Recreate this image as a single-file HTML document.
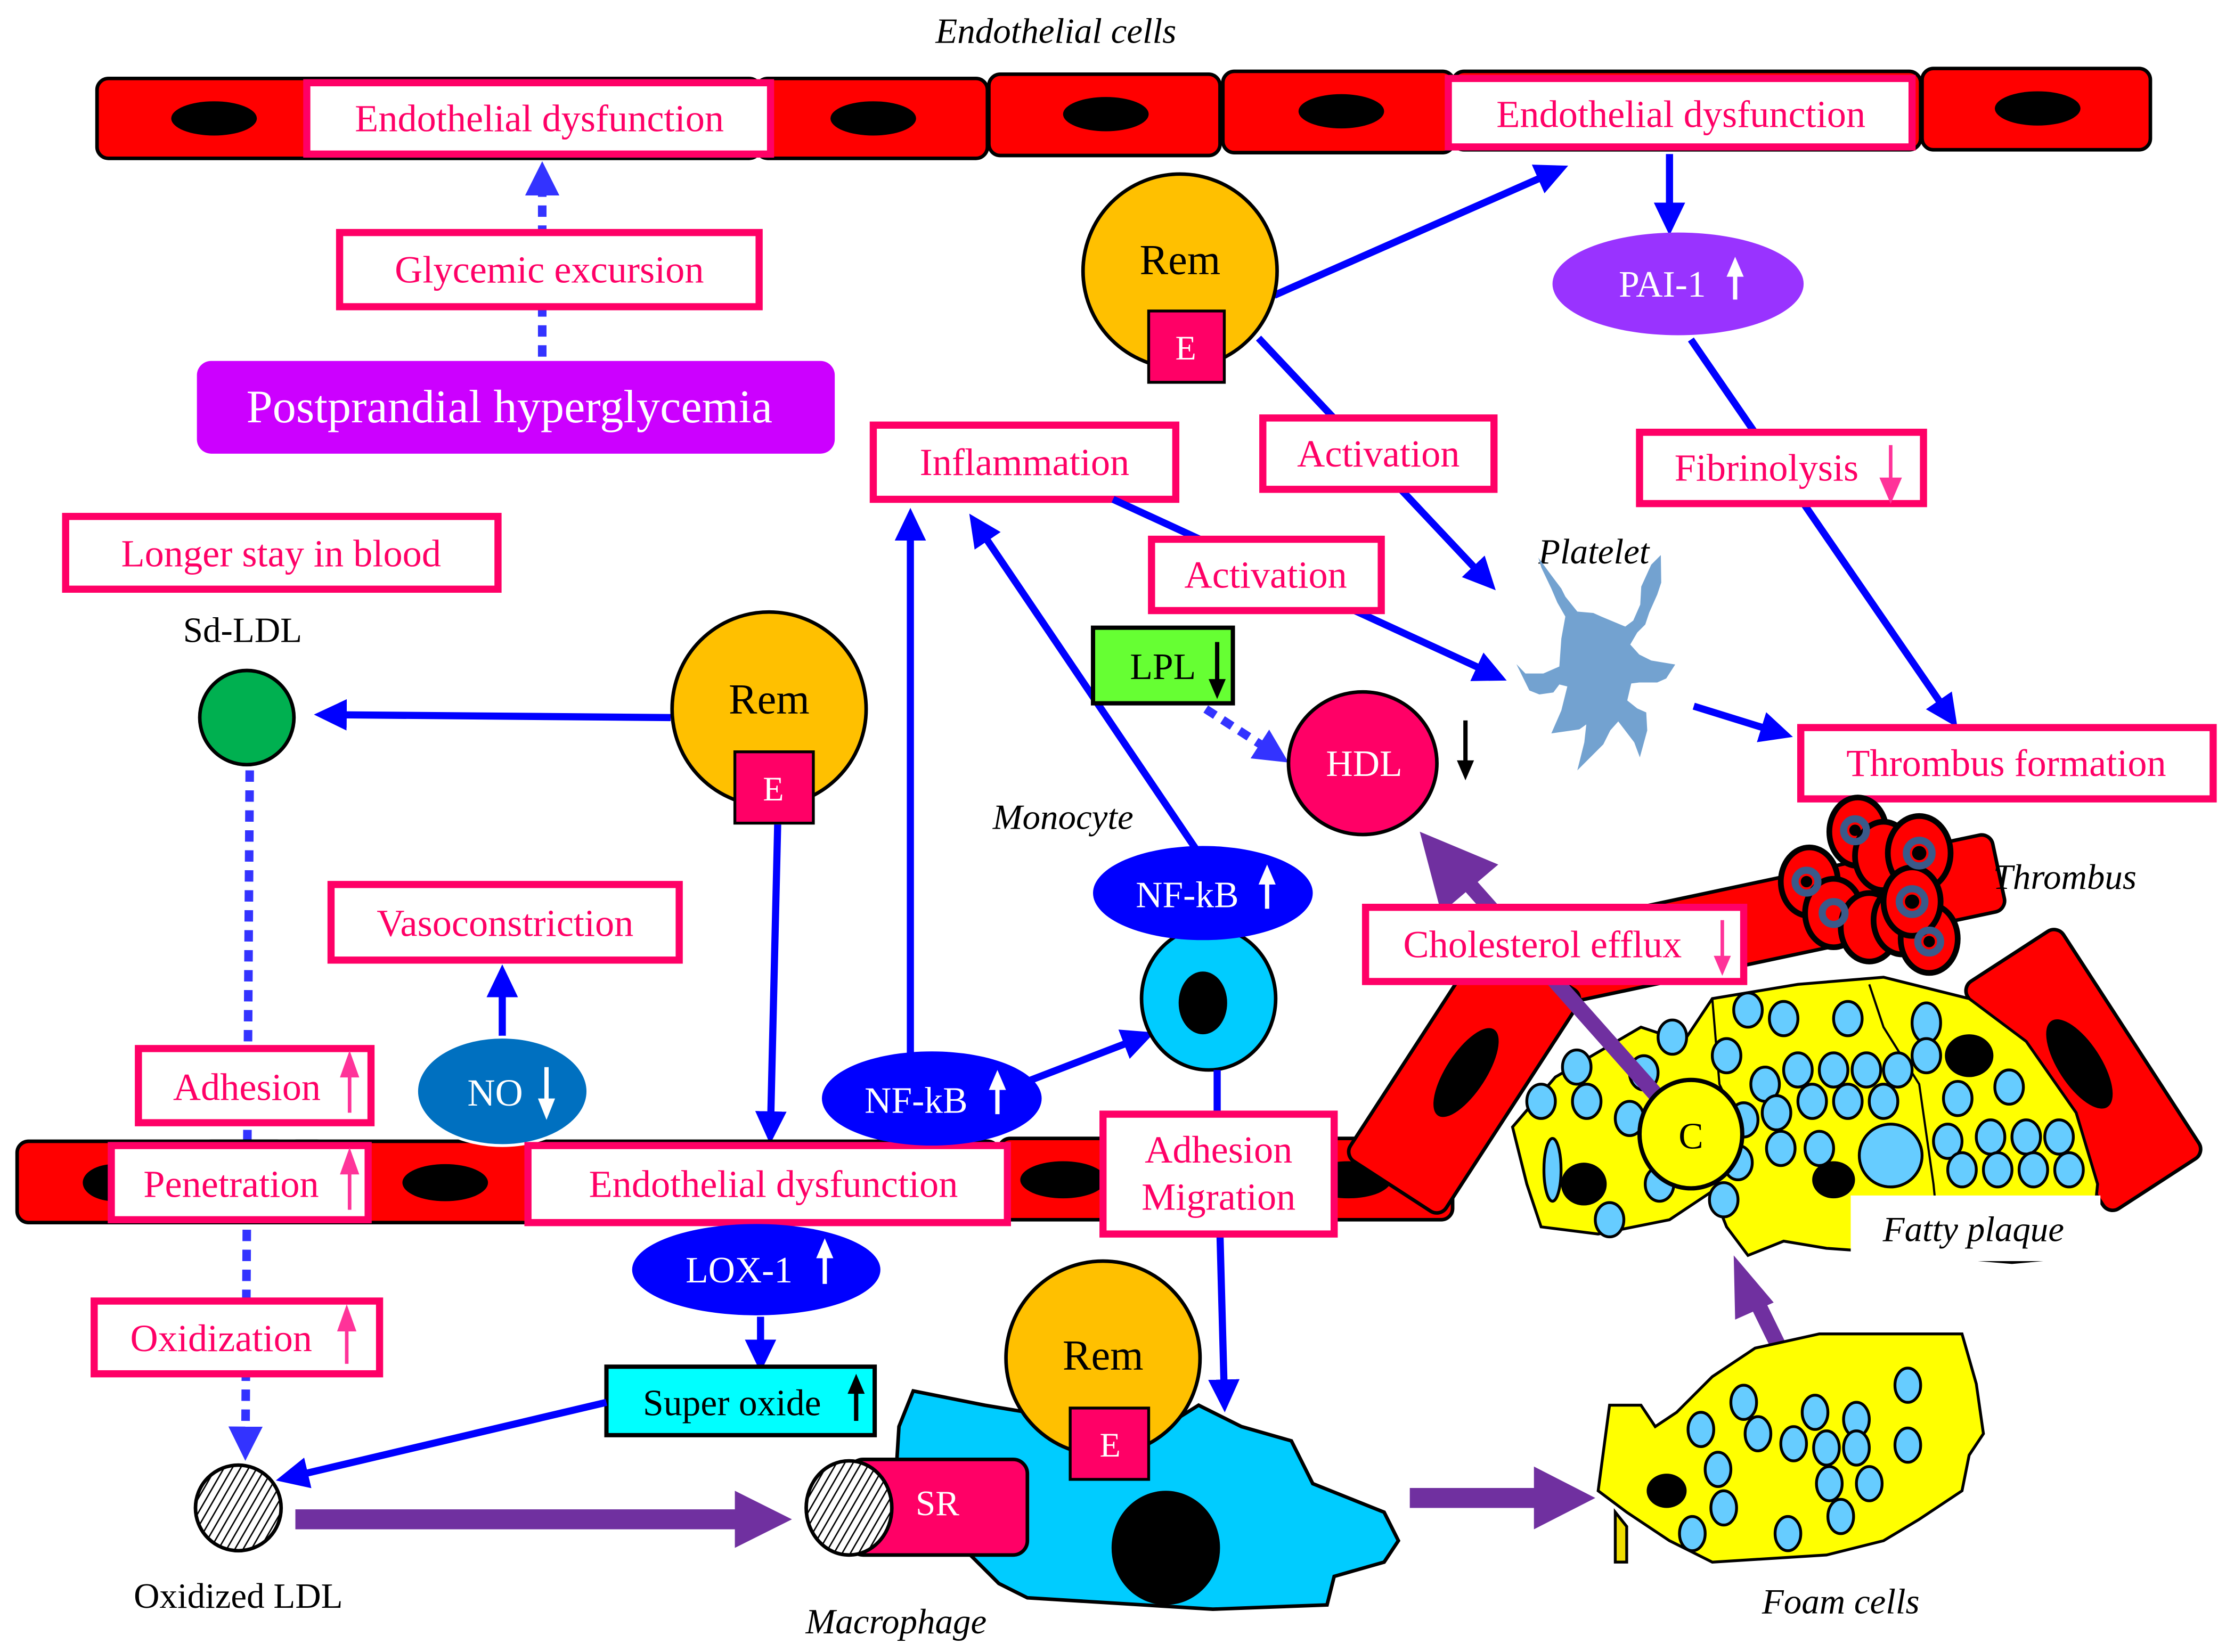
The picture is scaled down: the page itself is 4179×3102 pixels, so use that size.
<!DOCTYPE html>
<html><head><meta charset="utf-8"><style>
html,body{margin:0;padding:0;background:#fff;}
svg{display:block;}
text{font-family:"Liberation Serif",serif;}
.pk{fill:#ff0066;font-size:27px;}
.bx{fill:#fff;stroke:#ff0066;stroke-width:5;}
.cell{fill:#ff0000;stroke:#000;stroke-width:2.5;}
.bl{stroke:#0000ff;stroke-width:5;fill:none;}
.dot{fill:#66ccff;stroke:#000;stroke-width:2;}
.it{font-style:italic;font-size:25px;fill:#000;}
</style></head><body>
<svg width="4179" height="3102" viewBox="0 0 1560 1158" preserveAspectRatio="none" xmlns="http://www.w3.org/2000/svg">
<defs>
<marker id="ab" markerWidth="4.6" markerHeight="4.4" refX="2.2" refY="2.2" orient="auto" markerUnits="strokeWidth"><path d="M0,0 L4.6,2.2 L0,4.4 Z" fill="#0000ff"/></marker>
<marker id="ad" markerWidth="4" markerHeight="4" refX="2" refY="2" orient="auto" markerUnits="strokeWidth"><path d="M0,0 L4,2 L0,4 Z" fill="#3333ff"/></marker>
<pattern id="hatch" width="5" height="5" patternUnits="userSpaceOnUse" patternTransform="rotate(30)"><rect width="5" height="5" fill="#fff"/><line x1="0" y1="0" x2="0" y2="5" stroke="#000" stroke-width="2"/></pattern>
</defs>

<!-- top endothelium -->
<text x="740" y="30" class="it" text-anchor="middle">Endothelial cells</text>
<rect class="cell" x="68" y="55" width="465" height="56" rx="8"/>
<rect class="cell" x="530" y="55" width="162" height="56" rx="8"/>
<rect class="cell" x="693" y="52" width="162" height="57" rx="8"/>
<rect class="cell" x="857" y="50" width="162" height="57" rx="8"/>
<rect class="cell" x="1018" y="50" width="328" height="55" rx="8"/>
<rect class="cell" x="1347" y="48" width="160" height="57" rx="8"/>
<ellipse cx="150" cy="83" rx="30" ry="12"/>
<ellipse cx="612" cy="83" rx="30" ry="12"/>
<ellipse cx="775" cy="80" rx="30" ry="12"/>
<ellipse cx="940" cy="78" rx="30" ry="12"/>
<ellipse cx="1428" cy="76" rx="30" ry="12"/>
<rect class="bx" x="215" y="58" width="325" height="50"/><text class="pk" x="378" y="92" text-anchor="middle">Endothelial dysfunction</text>
<rect class="bx" x="1015" y="55" width="325" height="48"/><text class="pk" x="1178" y="89" text-anchor="middle">Endothelial dysfunction</text>

<!-- glycemic -->
<line x1="380" y1="250" x2="380" y2="125" stroke="#3333ff" stroke-width="6" stroke-dasharray="8,6" marker-end="url(#ad)"/>
<rect class="bx" x="238" y="163" width="294" height="52"/><text class="pk" x="385" y="198" text-anchor="middle">Glycemic excursion</text>
<rect x="138" y="253" width="447" height="65" rx="10" fill="#cc00ff"/>
<text x="357" y="296" text-anchor="middle" fill="#fff" font-size="33">Postprandial hyperglycemia</text>

<!-- left side -->
<rect class="bx" x="46" y="362" width="303" height="51"/><text class="pk" x="197" y="397" text-anchor="middle">Longer stay in blood</text>
<text x="170" y="450" text-anchor="middle" font-size="25">Sd-LDL</text>
<circle cx="173" cy="503" r="33" fill="#00b050" stroke="#000" stroke-width="2.5"/>
<line x1="470" y1="503" x2="232" y2="501" class="bl" marker-end="url(#ab)"/>
<circle cx="539" cy="497" r="68" fill="#ffc000" stroke="#000" stroke-width="2.5"/>
<text x="539" y="500" text-anchor="middle" font-size="30">Rem</text>
<rect x="515" y="527" width="55" height="50" fill="#ff0066" stroke="#000" stroke-width="2"/>
<text x="542" y="561" text-anchor="middle" fill="#fff" font-size="24">E</text>
<line x1="545" y1="578" x2="540" y2="790" class="bl" marker-end="url(#ab)"/>
<line x1="175" y1="540" x2="172" y2="1012" stroke="#3333ff" stroke-width="6" stroke-dasharray="8,6" marker-end="url(#ad)"/>

<rect class="bx" x="232" y="620" width="244" height="53"/><text class="pk" x="354" y="656" text-anchor="middle">Vasoconstriction</text>
<line x1="352" y1="728" x2="352" y2="688" class="bl" stroke-width="6" marker-end="url(#ab)"/>

<!-- bottom endothelium -->
<rect class="cell" x="12" y="800" width="190" height="57" rx="8"/>
<rect class="cell" x="140" y="800" width="90" height="57" rx="8"/>
<rect class="cell" x="200" y="800" width="180" height="57" rx="8"/>
<rect class="cell" x="370" y="800" width="330" height="57" rx="8"/>
<rect class="cell" x="700" y="798" width="318" height="57" rx="8"/>
<ellipse cx="80" cy="829" rx="22" ry="13"/>
<ellipse cx="312" cy="829" rx="30" ry="13"/>
<ellipse cx="745" cy="827" rx="30" ry="13"/>
<ellipse cx="945" cy="827" rx="30" ry="13"/>
<ellipse cx="352" cy="765" rx="60" ry="38" fill="#0070c0" stroke="#fff" stroke-width="2"/>
<text x="347" y="775" text-anchor="middle" fill="#fff" font-size="27">NO</text>
<line x1="383" y1="748" x2="383" y2="772" stroke="#fff" stroke-width="3"/><path d="M377,770 L383,785 L389,770Z" fill="#fff"/>
<rect class="bx" x="97" y="735" width="163" height="52"/><text class="pk" x="173" y="771" text-anchor="middle">Adhesion</text>
<rect class="bx" x="78" y="803" width="180" height="52"/><text class="pk" x="162" y="839" text-anchor="middle">Penetration</text>
<rect class="bx" x="370" y="803" width="336" height="54"/><text class="pk" x="542" y="839" text-anchor="middle">Endothelial dysfunction</text>
<rect class="bx" x="66" y="912" width="200" height="51"/><text class="pk" x="155" y="947" text-anchor="middle">Oxidization</text>
<g stroke="#ff3399" stroke-width="2.5" fill="#ff3399">
<line x1="245" y1="780" x2="245" y2="750"/><path d="M240,754 L245,740 L250,754Z"/>
<line x1="245" y1="848" x2="245" y2="818"/><path d="M240,822 L245,808 L250,822Z"/>
<line x1="243" y1="956" x2="243" y2="928"/><path d="M238,932 L243,918 L248,932Z"/>
</g>

<!-- oxidized LDL & macrophage -->
<circle cx="167" cy="1057" r="30" fill="url(#hatch)" stroke="#000" stroke-width="2.5"/>
<text x="167" y="1127" text-anchor="middle" font-size="25">Oxidized LDL</text>
<path d="M207,1058 L515,1058 L515,1045 L555,1065 L515,1085 L515,1072 L207,1072Z" fill="#7030a0"/>
<path d="M640,975 L690,985 L720,990 L760,1010 L800,1010 L840,985 L870,1000 L905,1010 L920,1040 L945,1050 L970,1060 L980,1080 L970,1095 L935,1105 L930,1125 L850,1128 L720,1120 L700,1110 L670,1080 L625,1080 L630,1000Z" fill="#00ccff" stroke="#000" stroke-width="2.5"/>
<ellipse cx="817" cy="1085" rx="38" ry="40" fill="#000"/>
<rect x="595" y="1023" width="125" height="67" rx="10" fill="#ff0066" stroke="#000" stroke-width="2.5"/>
<text x="657" y="1062" text-anchor="middle" fill="#fff" font-size="25">SR</text>
<ellipse cx="595" cy="1057" rx="30" ry="33" fill="url(#hatch)" stroke="#000" stroke-width="2.5"/>
<circle cx="773" cy="952" r="68" fill="#ffc000" stroke="#000" stroke-width="2.5"/>
<text x="773" y="960" text-anchor="middle" font-size="30">Rem</text>
<rect x="750" y="987" width="55" height="50" fill="#ff0066" stroke="#000" stroke-width="2"/>
<text x="778" y="1021" text-anchor="middle" fill="#fff" font-size="24">E</text>
<text x="628" y="1145" text-anchor="middle" class="it">Macrophage</text>

<ellipse cx="530" cy="890" rx="87" ry="32" fill="#0000ff"/>
<text x="518" y="899" text-anchor="middle" fill="#fff" font-size="26">LOX-1</text>
<line x1="578" y1="900" x2="578" y2="880" stroke="#fff" stroke-width="3"/><path d="M572,882 L578,868 L584,882Z" fill="#fff"/>
<line x1="533" y1="923" x2="533" y2="950" class="bl" marker-end="url(#ab)"/>
<rect x="425" y="958" width="188" height="48" fill="#00ffff" stroke="#000" stroke-width="3"/>
<text x="513" y="992" text-anchor="middle" font-size="26">Super oxide</text>
<line x1="600" y1="996" x2="600" y2="975" stroke="#000" stroke-width="3"/><path d="M594,977 L600,963 L606,977Z"/>
<line x1="425" y1="983" x2="205" y2="1035" class="bl" marker-end="url(#ab)"/>

<!-- NF-kB / monocyte -->
<ellipse cx="653" cy="770" rx="77" ry="33" fill="#0000ff"/>
<text x="642" y="780" text-anchor="middle" fill="#fff" font-size="26">NF-kB</text>
<line x1="699" y1="781" x2="699" y2="762" stroke="#fff" stroke-width="3"/><path d="M693,764 L699,750 L705,764Z" fill="#fff"/>
<line x1="638" y1="740" x2="638" y2="368" class="bl" marker-end="url(#ab)"/>
<line x1="720" y1="758" x2="798" y2="728" class="bl" marker-end="url(#ab)"/>
<ellipse cx="847" cy="700" rx="47" ry="50" fill="#00ccff" stroke="#000" stroke-width="2.5"/>
<ellipse cx="843" cy="703" rx="17" ry="22" fill="#000"/>
<line x1="838" y1="595" x2="686" y2="370" class="bl" marker-end="url(#ab)"/>
<ellipse cx="843" cy="626" rx="77" ry="33" fill="#0000ff"/>
<text x="832" y="636" text-anchor="middle" fill="#fff" font-size="26">NF-kB</text>
<line x1="888" y1="637" x2="888" y2="618" stroke="#fff" stroke-width="3"/><path d="M882,620 L888,606 L894,620Z" fill="#fff"/>
<text x="745" y="581" text-anchor="middle" class="it">Monocyte</text>
<line x1="853" y1="750" x2="853" y2="782" class="bl"/>
<line x1="855" y1="866" x2="858" y2="978" class="bl" marker-end="url(#ab)"/>
<rect class="bx" x="773" y="781" width="162" height="84"/>
<text class="pk" x="854" y="815" text-anchor="middle">Adhesion</text>
<text class="pk" x="854" y="848" text-anchor="middle">Migration</text>

<!-- top middle -->
<rect class="bx" x="612" y="298" width="212" height="52"/><text class="pk" x="718" y="333" text-anchor="middle">Inflammation</text>
<line x1="780" y1="350" x2="1045" y2="472" class="bl" marker-end="url(#ab)"/>
<rect class="bx" x="807" y="378" width="161" height="50"/><text class="pk" x="887" y="412" text-anchor="middle">Activation</text>
<line x1="893" y1="207" x2="1088" y2="121" class="bl" marker-end="url(#ab)"/>
<line x1="882" y1="237" x2="1040" y2="405" class="bl" marker-end="url(#ab)"/>
<circle cx="827" cy="190" r="68" fill="#ffc000" stroke="#000" stroke-width="2.5"/>
<text x="827" y="192" text-anchor="middle" font-size="30">Rem</text>
<rect x="805" y="218" width="53" height="50" fill="#ff0066" stroke="#000" stroke-width="2"/>
<text x="831" y="252" text-anchor="middle" fill="#fff" font-size="24">E</text>
<rect class="bx" x="885" y="293" width="162" height="50"/><text class="pk" x="966" y="327" text-anchor="middle">Activation</text>

<line x1="1170" y1="108" x2="1170" y2="153" class="bl" marker-end="url(#ab)"/>
<line x1="1185" y1="238" x2="1365" y2="500" class="bl" marker-end="url(#ab)"/>
<ellipse cx="1176" cy="199" rx="88" ry="36" fill="#9933ff"/>
<text x="1165" y="208" text-anchor="middle" fill="#fff" font-size="26">PAI-1</text>
<line x1="1216" y1="210" x2="1216" y2="192" stroke="#fff" stroke-width="3"/><path d="M1210,194 L1216,180 L1222,194Z" fill="#fff"/>
<rect class="bx" x="1149" y="303" width="199" height="50"/><text class="pk" x="1238" y="337" text-anchor="middle">Fibrinolysis</text>
<g stroke="#ff3399" stroke-width="2.5" fill="#ff3399"><line x1="1325" y1="312" x2="1325" y2="338"/><path d="M1319,336 L1325,350 L1331,336Z"/></g>

<!-- platelet -->
<text x="1117" y="395" text-anchor="middle" class="it">Platelet</text>
<g transform="translate(1118,470) scale(0.14) translate(-550,-900)">
<path d="M265,335 L320,410 L380,490 L400,530 L460,605 L540,612 L580,630 L700,680 L740,650 L775,570 L780,480 L830,370 L878,322 L880,460 L860,520 L820,610 L800,670 L760,710 L725,770 L770,820 L830,850 L950,870 L905,940 L860,960 L770,960 L730,965 L710,1050 L760,1090 L805,1110 L810,1200 L773,1335 L745,1260 L665,1155 L625,1200 L590,1270 L540,1320 L460,1400 L495,1260 L505,1170 L470,1195 L330,1215 L380,1100 L410,980 L370,970 L340,1010 L270,1020 L220,1000 L155,868 L200,915 L290,915 L370,880 L380,740 L400,630 L360,560 L330,490 L280,385Z" fill="#73a2d0"/>
</g>
<line x1="1187" y1="495" x2="1245" y2="513" class="bl" marker-end="url(#ab)"/>
<rect class="bx" x="1262" y="510" width="289" height="50"/><text class="pk" x="1406" y="544" text-anchor="middle">Thrombus formation</text>

<rect x="766" y="440" width="98" height="53" fill="#66ff33" stroke="#000" stroke-width="3"/>
<text x="815" y="476" text-anchor="middle" font-size="26">LPL</text>
<line x1="853" y1="450" x2="853" y2="478" stroke="#000" stroke-width="3"/><path d="M847,476 L853,490 L859,476Z"/>
<line x1="845" y1="497" x2="893" y2="528" stroke="#3333ff" stroke-width="6" stroke-dasharray="8,6" marker-end="url(#ad)"/>
<ellipse cx="955" cy="535" rx="52" ry="50" fill="#ff0066" stroke="#000" stroke-width="2.5"/>
<text x="956" y="544" text-anchor="middle" fill="#fff" font-size="26">HDL</text>
<line x1="1027" y1="505" x2="1027" y2="535" stroke="#000" stroke-width="3"/><path d="M1021,533 L1027,547 L1033,533Z"/>

<!-- plaque vessel -->
<g transform="rotate(-12 1180 655)"><rect class="cell" x="1045" y="630" width="360" height="55" rx="8"/></g>
<g transform="rotate(33 1040 760)"><rect class="cell" x="985" y="670" width="80" height="185" rx="8"/><ellipse cx="1025" cy="760" rx="14" ry="36"/></g>
<g transform="rotate(-33 1460 750)"><rect class="cell" x="1420" y="655" width="80" height="190" rx="8"/><ellipse cx="1460" cy="745" rx="15" ry="36"/></g>
<path d="M1090,755 L1150,720 L1180,730 L1200,700 L1260,690 L1320,685 L1380,700 L1420,730 L1455,780 L1470,830 L1465,880 L1410,885 L1350,880 L1280,875 L1250,870 L1225,880 L1210,860 L1200,835 L1170,855 L1120,865 L1080,860 L1070,830 L1060,790Z" fill="#ffff00" stroke="#000" stroke-width="2"/>
<path d="M1200,700 L1205,760 L1215,780 M1310,690 L1320,720 L1345,760 L1355,830 L1360,880" stroke="#000" stroke-width="1.5" fill="none"/>
<g class="dot">
<ellipse cx="1105" cy="748" rx="10" ry="12"/><ellipse cx="1172" cy="727" rx="10" ry="12"/><ellipse cx="1080" cy="772" rx="10" ry="12"/><ellipse cx="1112" cy="772" rx="10" ry="12"/><ellipse cx="1142" cy="784" rx="10" ry="12"/>
<ellipse cx="1152" cy="752" rx="10" ry="12"/><ellipse cx="1088" cy="820" rx="6" ry="22"/><ellipse cx="1128" cy="855" rx="10" ry="12"/><ellipse cx="1163" cy="830" rx="10" ry="12"/><ellipse cx="1208" cy="841" rx="10" ry="12"/>
<ellipse cx="1218" cy="815" rx="10" ry="12"/><ellipse cx="1225" cy="708" rx="10" ry="12"/><ellipse cx="1250" cy="714" rx="10" ry="12"/><ellipse cx="1295" cy="714" rx="10" ry="12"/>
<ellipse cx="1210" cy="740" rx="10" ry="12"/><ellipse cx="1237" cy="760" rx="10" ry="12"/><ellipse cx="1260" cy="750" rx="10" ry="12"/><ellipse cx="1285" cy="750" rx="10" ry="12"/><ellipse cx="1308" cy="750" rx="10" ry="12"/><ellipse cx="1330" cy="750" rx="10" ry="12"/>
<ellipse cx="1222" cy="785" rx="10" ry="12"/><ellipse cx="1245" cy="780" rx="10" ry="12"/><ellipse cx="1270" cy="772" rx="10" ry="12"/><ellipse cx="1295" cy="772" rx="10" ry="12"/><ellipse cx="1320" cy="772" rx="10" ry="12"/>
<ellipse cx="1248" cy="805" rx="10" ry="12"/><ellipse cx="1275" cy="805" rx="10" ry="12"/><ellipse cx="1325" cy="810" rx="22" ry="22"/><ellipse cx="1350" cy="717" rx="10" ry="14"/><ellipse cx="1350" cy="740" rx="10" ry="12"/>
<ellipse cx="1395" cy="797" rx="10" ry="12"/><ellipse cx="1408" cy="762" rx="10" ry="12"/><ellipse cx="1372" cy="770" rx="10" ry="12"/><ellipse cx="1365" cy="800" rx="10" ry="12"/>
<ellipse cx="1420" cy="797" rx="10" ry="12"/><ellipse cx="1443" cy="797" rx="10" ry="12"/><ellipse cx="1375" cy="820" rx="10" ry="12"/><ellipse cx="1400" cy="820" rx="10" ry="12"/><ellipse cx="1425" cy="820" rx="10" ry="12"/><ellipse cx="1450" cy="820" rx="10" ry="12"/>
</g>
<ellipse cx="1110" cy="830" rx="16" ry="15" fill="#000"/><ellipse cx="1285" cy="827" rx="15" ry="13" fill="#000"/><ellipse cx="1380" cy="740" rx="17" ry="15" fill="#000"/>
<rect x="1297" y="838" width="175" height="46" fill="#fff"/>
<text x="1383" y="870" text-anchor="middle" class="it">Fatty plaque</text>

<!-- thrombus -->
<g stroke="#000" stroke-width="4" fill="#ff0000">
<ellipse cx="1302" cy="583" rx="20" ry="24"/><ellipse cx="1268" cy="618" rx="20" ry="24"/><ellipse cx="1320" cy="600" rx="20" ry="24"/><ellipse cx="1345" cy="598" rx="22" ry="26"/><ellipse cx="1285" cy="640" rx="20" ry="24"/><ellipse cx="1310" cy="650" rx="20" ry="24"/><ellipse cx="1333" cy="645" rx="20" ry="24"/><ellipse cx="1352" cy="658" rx="20" ry="24"/><ellipse cx="1340" cy="632" rx="20" ry="24"/>
</g>
<g fill="none" stroke="#3a5a8a" stroke-width="5"><circle cx="1300" cy="582" r="8"/><circle cx="1345" cy="598" r="9"/><circle cx="1340" cy="632" r="9"/><circle cx="1266" cy="618" r="8"/><circle cx="1352" cy="660" r="8"/><circle cx="1285" cy="640" r="8"/></g>
<g fill="#000"><circle cx="1300" cy="582" r="4"/><circle cx="1345" cy="598" r="5"/><circle cx="1340" cy="632" r="5"/><circle cx="1266" cy="618" r="4"/><circle cx="1352" cy="660" r="4"/></g>
<text x="1447" y="623" text-anchor="middle" class="it">Thrombus</text>

<!-- cholesterol efflux -->
<line x1="1185" y1="795" x2="1028" y2="618" stroke="#7030a0" stroke-width="11"/>
<path d="M995,583 L1050,606 L1010,640Z" fill="#7030a0"/>
<rect class="bx" x="957" y="636" width="265" height="52"/><text class="pk" x="1081" y="671" text-anchor="middle">Cholesterol efflux</text>
<line x1="1207" y1="645" x2="1207" y2="672" stroke="#ff3399" stroke-width="2.5"/><path d="M1201,670 L1207,684 L1213,670Z" fill="#ff3399"/>
<ellipse cx="1185" cy="795" rx="36" ry="38" fill="#ffff00" stroke="#000" stroke-width="3"/>
<text x="1185" y="805" text-anchor="middle" font-size="26">C</text>

<!-- foam cells -->
<path d="M988,1043 L1075,1043 L1075,1028 L1118,1050 L1075,1072 L1075,1057 L988,1057Z" fill="#7030a0"/>
<line x1="1252" y1="955" x2="1230" y2="910" stroke="#7030a0" stroke-width="11"/>
<path d="M1215,880 L1243,913 L1216,925Z" fill="#7030a0"/>
<path d="M1132,1060 L1132,1095 L1140,1095 L1140,1070Z" fill="#eedd00" stroke="#000" stroke-width="2"/>
<path d="M1175,990 L1200,965 L1230,945 L1275,935 L1375,935 L1385,970 L1390,1005 L1380,1020 L1375,1045 L1345,1065 L1320,1080 L1280,1090 L1200,1095 L1170,1080 L1140,1060 L1120,1045 L1128,985 L1150,985 L1160,1000Z" fill="#ffff00" stroke="#000" stroke-width="2"/>
<g class="dot">
<ellipse cx="1192" cy="1002" rx="9" ry="12"/><ellipse cx="1222" cy="983" rx="9" ry="12"/><ellipse cx="1272" cy="990" rx="9" ry="12"/><ellipse cx="1337" cy="971" rx="9" ry="12"/>
<ellipse cx="1232" cy="1005" rx="9" ry="12"/><ellipse cx="1257" cy="1012" rx="9" ry="12"/><ellipse cx="1280" cy="1015" rx="9" ry="12"/><ellipse cx="1301" cy="995" rx="9" ry="12"/><ellipse cx="1301" cy="1015" rx="9" ry="12"/><ellipse cx="1337" cy="1013" rx="9" ry="12"/>
<ellipse cx="1204" cy="1030" rx="9" ry="12"/><ellipse cx="1282" cy="1040" rx="9" ry="12"/><ellipse cx="1310" cy="1040" rx="9" ry="12"/><ellipse cx="1208" cy="1057" rx="9" ry="12"/><ellipse cx="1290" cy="1063" rx="9" ry="12"/>
<ellipse cx="1186" cy="1075" rx="9" ry="12"/><ellipse cx="1253" cy="1075" rx="9" ry="12"/>
</g>
<ellipse cx="1168" cy="1045" rx="14" ry="12" fill="#000"/>
<text x="1290" y="1131" text-anchor="middle" class="it">Foam cells</text>
</svg>
</body></html>
